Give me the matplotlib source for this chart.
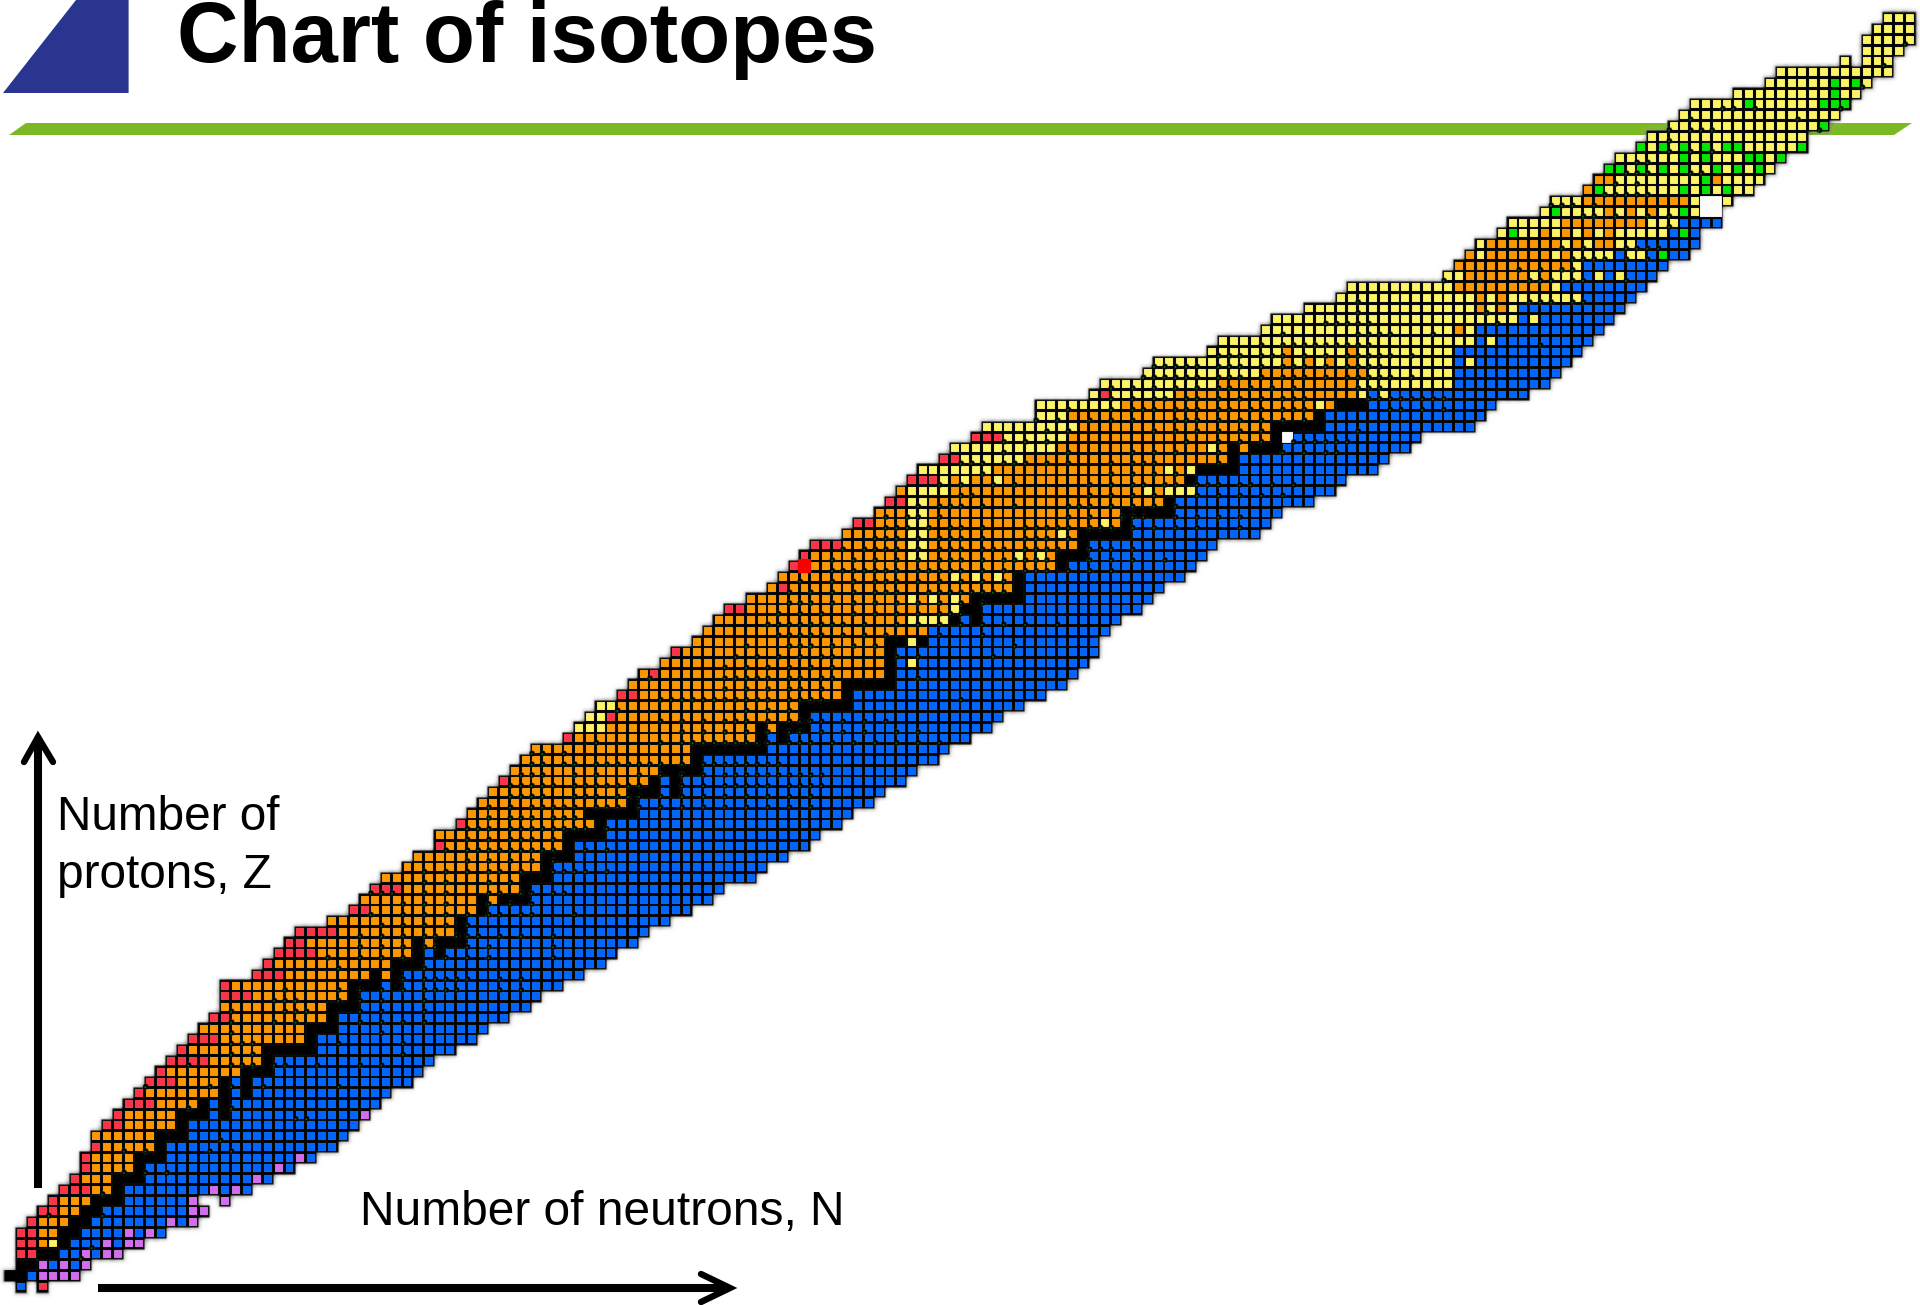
import numpy as np
import matplotlib
matplotlib.use("Agg")
import matplotlib.pyplot as plt
from matplotlib.patches import Rectangle, Polygon, Circle
from matplotlib.collections import PatchCollection

# first N of every row, Z = 0, 1, 2 ...
first_n = [1, 0, 1, 1, 1, 1, 2, 3, 4, 5, 6, 7, 7, 8, 8, 9, 10, 11, 12, 13,
           14, 15, 16, 17, 18, 19, 20, 20, 20, 23, 24, 25, 26, 27, 30, 32, 33, 34, 35, 37,
           38, 40, 40, 42, 43, 44, 45, 46, 47, 48, 49, 52, 53, 54, 55, 57, 58, 59, 61, 62,
           64, 65, 66, 67, 69, 71, 72, 73, 74, 75, 78, 79, 81, 82, 83, 84, 85, 87, 88, 90,
           91, 96, 96, 101, 102, 106, 107, 112, 113, 117, 118, 121, 124, 125, 134, 135, 136, 137, 139, 140,
           143, 144, 147, 148, 149, 150, 152, 153, 155, 156, 157, 161, 164, 165, 171, 173, 173, 174, 175]

# decay mode runs along every row
# k stable, b beta-, o beta+, y alpha, r proton, p neutron, g fission, R the big red one, W missing, . gap
modes = [
    "b . r", "k2 b p4", "k2 p b p b p", "r2 k2 b2 p b p2", "r2 o y k b3 p b p2",
    "r2 o2 k2 b4 p b p b", "r o3 k2 b7 p b p", "r2 o2 k2 b8 p2", "r o3 k3 b6 p .2 p", "r3 o2 k b8 p b p b",
    "r o3 k3 b10 p b", "r o4 k b12 p b", "r o4 k3 b12 p b", "r o5 k b16", "o6 k3 b15",
    "r2 o5 k b16", "r o5 k3 b k b12 p", "r3 o4 k b k b14", "r o7 k b k b13", "r3 o4 k b k b15",
    "r o7 k3 b14", "r4 o5 k b15", "r o7 k5 b13", "r3 o8 k b15", "o10 k3 b14",
    "r2 o9 k b16", "o10 k3 b16", "r3 o9 k b17", "r o11 k3 b k b15", "r3 o8 k o k b17",
    "r o11 k3 b17", "r4 o9 k b k b16", "r2 o10 k o k3 b16", "r4 o11 k b17", "o12 k b19",
    "r2 o10 k b19", "o11 k o k3 b17", "r3 o11 k b18", "o13 k3 b19", "o13 k b20",
    "o12 k3 b20", "r o11 k b22", "o12 k4 b20", "r o12 k b22", "o11 k5 b20",
    "o14 k b22", "o13 k3 b k b19", "r o13 k b k b21", "o14 k4 b20", "o16 k b22",
    "o15 k7 b17", "r o17 k b k b17", "y3 o14 k o k3 b17", "y2 r o17 k b18", "y2 o17 k5 b16",
    "r2 o19 k b18", "o20 k5 b16", "o r o21 k b17", "o21 k b y b16", "r o19 k b19",
    "o18 k2 y k b16", "o21 b17", "o18 y4 k b k b13", "r2 o19 y k2 b15", "o15 y o y o y o k5 b12",
    "o r o21 k b13", "o16 y o y o y o k b15", "r R o23 k b12", "r o9 y2 o8 y o y o k3 b11", "r3 o6 y2 o14 k b12",
    "o6 y2 o12 y o k5 b12", "r2 o3 y2 o16 y o k b13", "o3 y2 o18 k5 b10", "r2 y2 o22 k b13", "o y4 o18 y o y3 b13",
    "r3 y o y o2 y o17 k b14", "y7 o16 y o y k4 b13", "r2 y6 o19 k b14", "y10 o14 y o k o k3 b12", "r3 y6 o19 k W b12",
    "y9 o18 k5 b14", "y3 o23 k b15", "y8 o18 y o k3 b12", "y r y6 o17 y b y b13", "y11 o13 y9 b9",
    "y11 o10 y8 b10", "y12 o y o y o y o y9 b y b9", "y7 o y5 o y9 b12", "y24 b y b9", "y18 o y b12",
    "y23 b y b7", "y16 o y o y b10", "y13 o y o y7 b5", "y10 o9 y b8", "y2 o6 y o y3 b y b y b3",
    "o11 y b8", "o y o6 y o y4 b y2 b g b2", "y o7 y o y o2 y2 b6", "y g y2 o y o y o y o y5 b g b", "y5 o8 y3 b4",
    "y g y4 o y o y o y2 g y W2", "y3 o10 y W2 y", "o g y7 g y g y g y2", "o2 y8 g o y4", "g2 y g y g y g y2 g y g y g y",
    "y6 g y g y3 g2 y g", "g y g y g y g y g2 y5 g", "y15", "y14 g", "y15",
    "y5 g y6 g3", "y9 g y2", "y6 g y g y", "y11", "y . y3",
    "y4", "y5", "y4", "y3",
]

# cells with an isomer mark: row Z and the N values read in that row
iso_z = [3, 4, 7, 9, 11, 13, 14, 16, 17, 19, 21, 22, 23, 24, 25, 26, 27, 28, 29, 30,
         31, 32, 33, 34, 35, 36, 37, 38, 39, 40, 41, 42, 43, 44, 45, 46, 47, 48, 49, 50,
         51, 52, 53, 54, 55, 56, 57, 58, 59, 60, 61, 62, 63, 64, 65, 66, 67, 68, 69, 70,
         71, 72, 73, 74, 75, 76, 77, 78, 79, 80, 81, 82, 83, 84, 85, 86, 87, 88, 89, 90,
         91, 92, 94, 95, 96, 97, 99, 100, 101, 102, 103, 104, 105, 106, 107, 108, 109, 110, 112, 114, 116]
iso_n = [
    [7], [8], [4, 9], [9], [11, 13, 15], [11, 13, 19, 21], [20], [27, 28], [17, 21], [13, 19, 21, 24, 31],
    [17, 21, 22, 23, 25, 26, 29, 33, 35], [21, 23, 37], [21, 22, 23, 31, 37], [21, 35], [21, 25, 27, 33, 35, 37, 39],
    [21, 26, 27, 28, 33, 35, 39], [25, 26, 27, 31, 33, 35, 39], [26, 31, 33, 35, 37, 39, 40, 41, 42, 46, 48],
    [37, 39, 40, 41, 42, 43, 46, 48], [31, 39],
    [30, 33, 35, 37, 41, 43, 45, 51], [33, 35, 37, 39, 40, 43, 45, 51], [33, 35, 37, 39, 40, 42, 43, 44, 46, 48, 51],
    [35, 37, 39, 41, 43], [34, 37, 39, 41, 43, 45, 46, 48, 49, 53],
    [37, 39, 41, 45, 47, 49], [34, 35, 36, 39, 41, 45, 46, 48, 49, 51, 52], [39, 41, 45, 47],
    [39, 41, 43, 45, 46, 48, 51, 52, 53, 54, 56], [43, 45, 47, 49, 51],
    [41, 43, 44, 45, 46, 47, 48, 49, 50, 51, 54, 56], [43, 45, 47, 48, 49, 51],
    [43, 44, 45, 47, 48, 49, 50, 51, 52, 53, 54, 56], [45, 47, 48, 49, 51, 52, 53],
    [45, 47, 49, 50, 51, 52, 53, 55, 56, 57, 59, 61, 63, 65, 67, 69, 71, 73, 75],
    [47, 48, 49, 50, 53, 54, 55, 57, 58, 59, 61, 63, 65, 67, 69, 71, 73, 75],
    [47, 48, 49, 50, 51, 53, 54, 55, 56, 57, 58, 59, 63, 65, 67, 68, 69, 70, 71, 73, 74, 75, 76],
    [48, 49, 50, 53, 55, 59, 61, 63, 65, 67, 68, 69, 70, 71, 72, 73, 74, 75, 76],
    [49, 50, 52, 53, 55, 56, 57, 58, 59, 60, 61, 63, 65, 66, 67, 68, 69, 70, 71, 72], [49, 50, 52],
    [55, 61, 63, 64, 65, 66, 67, 68, 69, 70, 71, 73, 74, 75, 77, 79, 81, 83, 85, 87],
    [63, 65, 67, 69, 71, 73, 74, 76, 78, 80, 83, 85], [61, 63, 65, 67, 68, 69, 71, 73, 74, 75, 76, 78, 80, 82],
    [57, 69, 71, 73], [61, 62, 63, 64, 65, 66, 67, 68, 69, 70, 71, 73, 74, 75, 76, 89],
    [67, 69, 71, 73, 74, 76], [60, 67, 68, 69, 70, 71, 73, 74, 76, 77, 85], [67, 69, 71, 73, 75, 77],
    [68, 70, 72, 74, 76, 77, 83, 85, 92], [69, 73, 74, 75, 77, 73, 75, 77, 79, 81, 94],
    [72, 73, 74, 75, 76, 78, 80, 82, 87, 91], [71, 72, 73, 74, 75, 77, 76, 78, 80, 83, 85, 87, 89, 91, 93, 95, 98],
    [72, 74, 76, 79, 81, 83, 85, 87, 88, 89], [73, 74, 75, 77, 79, 81, 83, 85, 87, 89, 91],
    [73, 75, 77, 79, 81, 82, 83, 86, 88, 90, 92, 93, 87, 89, 91], [74, 77, 79, 81, 82, 83, 85, 87, 89, 91, 93],
    [77, 78, 79, 80, 81, 82, 83, 85, 86, 87, 88, 89, 91, 93, 95, 96, 97, 99, 101, 103],
    [77, 79, 81, 83, 85, 87, 88, 89, 91, 93, 94, 95, 96, 97, 101, 103, 105, 108],
    [78, 80, 81, 82, 83, 85, 87, 88, 89, 91, 92, 93, 95, 96, 97, 98, 101, 102, 103, 105],
    [81, 82, 83, 85, 87, 88, 89, 91, 95, 96, 97, 99],
    [82, 83, 84, 86, 88, 89, 91, 95, 96, 97, 98, 99, 101, 102, 103, 105, 107, 109, 111, 115],
    [82, 84, 85, 87, 99, 101, 104, 105, 106, 109, 111, 113, 115],
    [85, 87, 88, 89, 91, 94, 99, 100, 101, 103, 105, 107, 109],
    [89, 90, 101, 103, 105, 107, 111, 113, 115, 117, 119],
    [87, 89, 92, 94, 101, 103, 105, 106, 108, 109, 111, 112, 113, 115, 116, 118, 120],
    [91, 103, 105, 107, 109], [89, 90, 91, 93, 94, 95, 97, 99, 103, 105, 106, 107, 113],
    [93, 99, 105, 107, 109, 113, 119, 121, 123, 124],
    [93, 95, 97, 110, 113, 115, 117, 120, 121, 122, 123, 124, 125],
    [97, 99, 107, 109, 111, 113, 115, 117, 126], [96, 98, 101, 103, 105, 109, 110, 111, 113, 115, 117, 119, 121],
    [99, 103, 105, 106, 107, 109, 110, 111, 113, 114, 116, 117, 119, 120, 121, 129, 130, 132, 134],
    [103, 105, 107, 108, 110, 111, 113, 115, 117, 119, 120, 121, 127, 128, 129, 130, 131, 132, 133, 134],
    [103, 105, 107, 109, 111, 113, 114, 116, 118, 120, 126, 127, 128],
    [106, 107, 108, 109, 110, 111, 113, 114, 115, 117, 119, 120, 121, 123, 125, 126, 127, 128, 129, 131],
    [107, 108, 109, 110, 111, 113, 114, 115, 117, 119, 120, 121, 123, 125, 126, 127, 128],
    [113, 114, 115, 117, 118, 119, 121, 123, 125, 126, 127, 128, 129, 131],
    [117, 119, 120, 121, 122, 123, 124, 125, 126, 127, 143], [119, 126, 127, 128, 129, 133], [123, 124, 125, 126, 127, 139],
    [126, 138], [126, 142, 143, 144, 146, 147], [134, 142, 143, 144, 146, 147, 151], [141, 143, 145, 146],
    [146, 147, 148, 149, 151, 153], [145, 147, 151, 152, 153, 154], [155], [147, 148, 150, 153, 155],
    [144, 145, 146, 148], [149, 150, 151, 152, 153], [150, 152], [151, 152, 153, 157, 158], [152, 153], [155, 157, 159],
    [155], [155, 157, 158, 159, 169], [157, 167], [160, 161, 163, 171], [173], [175], [177],
]

mode_colors = {
    "k": "#000000", "b": "#0066FF", "o": "#FF9900", "y": "#FFF566", "r": "#FF3348",
    "p": "#D66EF0", "g": "#00E800", "R": "#FF0000", "W": "#FFFFFF",
}

title = "Chart of isotopes"
x_label = "Number of neutrons, N"
y_label = "Number of\nprotons, Z"

# pixel place of the grid in the picture
px, py = 10.73, 10.747
x0, y0 = 10.5, 1286.5
W, H = 1920, 1305


def blur(sigma):
    # small gaussian for the soft look of the scaled-up original
    reach = int(3 * sigma) + 1
    dist = np.arange(-reach, reach + 1)
    kernel = np.exp(-dist ** 2 / (2 * sigma ** 2))
    kernel /= kernel.sum()

    def apply(image, dpi):
        out = np.pad(image, ((reach, reach), (reach, reach), (0, 0)))
        for axis in (0, 1):
            out = sum(k * np.roll(out, d, axis=axis) for k, d in zip(kernel, dist))
        return out, -reach, -reach
    return apply


plt.rcParams["font.family"] = ["Liberation Sans", "DejaVu Sans"]
fig = plt.figure(figsize=(W / 100, H / 100), dpi=100)

# pixel axes for the header, texts and arrows
ax = fig.add_axes([0, 0, 1, 1])
ax.set_xlim(0, W)
ax.set_ylim(H, 0)
ax.axis("off")

ax.add_patch(Polygon([(3, 93), (76, 0), (128.6, 0), (128.6, 93)], color="#2A3590", lw=0))
ax.add_patch(Polygon([(9, 135), (26, 123), (1912, 123), (1894, 135)], color="#7AB923", lw=0))
ax.text(177, 62, title, fontsize=61.3, fontweight="bold", va="baseline", ha="left")
ax.text(57, 830, y_label.split("\n")[0], fontsize=34.4, va="baseline", ha="left")
ax.text(57, 888, y_label.split("\n")[1], fontsize=34.4, va="baseline", ha="left")
ax.text(360, 1225, x_label, fontsize=34.5, va="baseline", ha="left")

# chart axes, data coordinates are N and Z
chart = fig.add_axes([0, 0, 1, 1], zorder=2)
chart.set_xlim((0 - x0) / px, (W - x0) / px)
chart.set_ylim((y0 - H) / py, y0 / py)
chart.axis("off")
chart.patch.set_alpha(0)

halo, back = [], []
cells = {c: [] for c in mode_colors}
for z, (n, row) in enumerate(zip(first_n, modes)):
    for token in row.split():
        code = token[0]
        count = int(token[1:]) if len(token) > 1 else 1
        for i in range(count):
            if code != ".":
                halo.append(Rectangle((n - 0.72, z - 0.72), 1.44, 1.44))
                back.append(Rectangle((n - 0.58, z - 0.58), 1.16, 1.16))
                size = {"k": 1.0, "R": 1.3, "W": 1.0}.get(code, 0.74)
                cells[code].append(Rectangle((n - size / 2, z - size / 2), size, size))
            n += 1

layer = PatchCollection(halo, facecolor="#000000", alpha=0.3, lw=0, zorder=1)
layer.set_agg_filter(blur(2.2))
chart.add_collection(layer)
layer = PatchCollection(back, facecolor="#000000", lw=0, zorder=2)
layer.set_agg_filter(blur(0.8))
chart.add_collection(layer)
for code, rects in cells.items():
    layer = PatchCollection(rects, facecolor=mode_colors[code], lw=0, zorder=4 if code == "R" else 3)
    layer.set_agg_filter(blur(0.4))
    chart.add_collection(layer)

# isomer marks sit on the lower left corner of a cell
arcs, dots = [], []
for z, ns in zip(iso_z, iso_n):
    for n in ns:
        arcs.append(Circle((n - 0.4, z - 0.4), 0.27))
        dots.append(Circle((n - 0.44, z - 0.44), 0.1))
layer = PatchCollection(arcs, facecolor="#000000", lw=0, zorder=5)
layer.set_agg_filter(blur(0.5))
chart.add_collection(layer)
chart.add_collection(PatchCollection(dots, facecolor="#0B5A12", lw=0, zorder=6))

# arrows
over = fig.add_axes([0, 0, 1, 1], zorder=3)
over.set_xlim(0, W)
over.set_ylim(H, 0)
over.axis("off")
over.plot([38, 38], [1188, 740], color="black", lw=5.8, solid_capstyle="butt")
over.plot([24, 38, 53], [762, 737, 762], color="black", lw=4.6, solid_capstyle="round", solid_joinstyle="miter")
over.plot([98, 728], [1288, 1288], color="black", lw=5.8, solid_capstyle="butt")
over.plot([701, 730, 701], [1274, 1288, 1302], color="black", lw=4.6, solid_capstyle="round", solid_joinstyle="miter")

fig.savefig("out.png", dpi=100)
